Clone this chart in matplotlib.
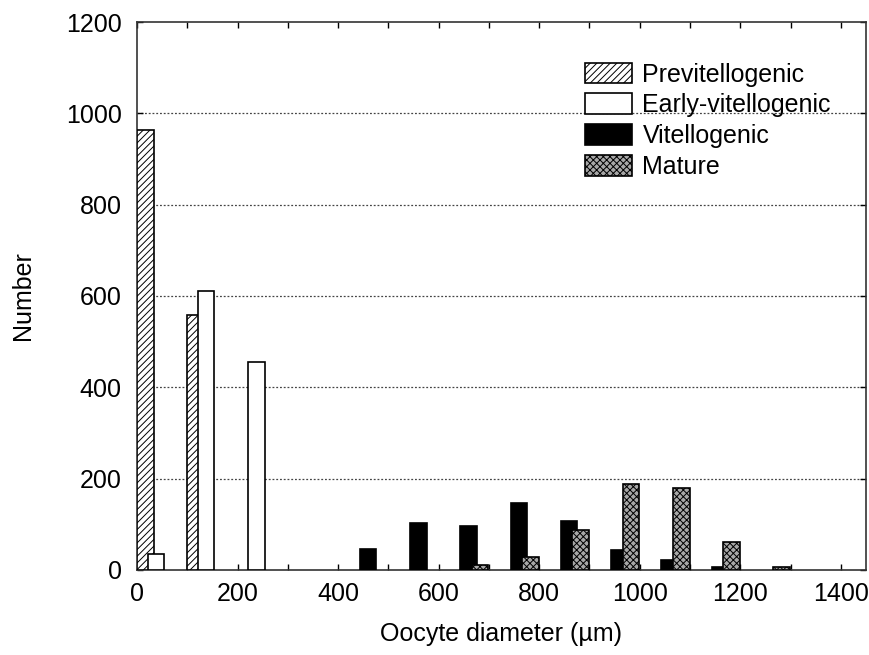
import matplotlib
matplotlib.use('Agg')
import matplotlib.pyplot as plt
import numpy as np

plt.rcParams['font.family'] = ['Liberation Sans', 'DejaVu Sans']
plt.rcParams['hatch.linewidth'] = 0.7

# size classes (lower edge of each 100 um bin) and counts per maturity stage
bins = [0, 100, 200, 300, 400, 500, 600, 700, 800, 900, 1000, 1100, 1200]
previtellogenic = [963, 558, 0, 0, 0, 0, 0, 0, 0, 0, 0, 0, 0]
early_vitellogenic = [35, 611, 455, 0, 0, 0, 0, 0, 0, 0, 0, 0, 0]
vitellogenic = [0, 0, 0, 0, 46, 103, 96, 147, 107, 44, 22, 7, 0]
mature = [0, 0, 0, 0, 0, 0, 11, 28, 88, 188, 180, 61, 7]

series = [
    ('Previtellogenic', previtellogenic, dict(facecolor='white', hatch='/////')),
    ('Early-vitellogenic', early_vitellogenic, dict(facecolor='white')),
    ('Vitellogenic', vitellogenic, dict(facecolor='black')),
    ('Mature', mature, dict(facecolor='#a8a8a8', hatch='xxxxx')),
]
offsets = [0, 21, 43, 66]
barWidth = 33
fs = 18

fig = plt.figure(figsize=(8.69, 6.55), dpi=100)
ax = fig.add_axes([0.1577, 0.1298, 0.8388, 0.8366])

x = np.array(bins)
for (name, vals, style), off in zip(series, offsets):
    vals = np.array(vals)
    keep = vals > 0
    ax.bar(x[keep] + off, vals[keep], width=barWidth, align='edge',
           edgecolor='black', linewidth=1.2, label=name, zorder=3, **style)

ax.set_xlim(0, 1450)
ax.set_ylim(0, 1200)
ax.set_xticks(np.arange(0, 1500, 100))
ax.set_xticklabels([str(v) if v % 200 == 0 else '' for v in range(0, 1500, 100)])
ax.set_yticks(np.arange(0, 1400, 200))
ax.tick_params(direction='in', length=4, width=1, labelsize=fs, top=True,
               right=True, colors='black')
ax.tick_params(axis='y', pad=11)
ax.tick_params(axis='x', pad=9)
for s in ax.spines.values():
    s.set_linewidth(1.2)
    s.set_color('#333333')

for yv in range(200, 1200, 200):
    ax.axhline(yv, color='#444444', linestyle=(0, (1.5, 1.5)), linewidth=0.9, zorder=1)

ax.set_xlabel('Oocyte diameter (\u00b5m)', fontsize=fs, labelpad=11)
ax.set_ylabel('Number', fontsize=fs, labelpad=22)

leg = ax.legend(loc='upper left', bbox_to_anchor=(0.6145, 0.926), frameon=False,
                fontsize=fs, handlelength=1.9, handleheight=0.9,
                labelspacing=0.27, handletextpad=0.4, borderpad=0,
                borderaxespad=0)

plt.savefig('out.png', dpi=100)
